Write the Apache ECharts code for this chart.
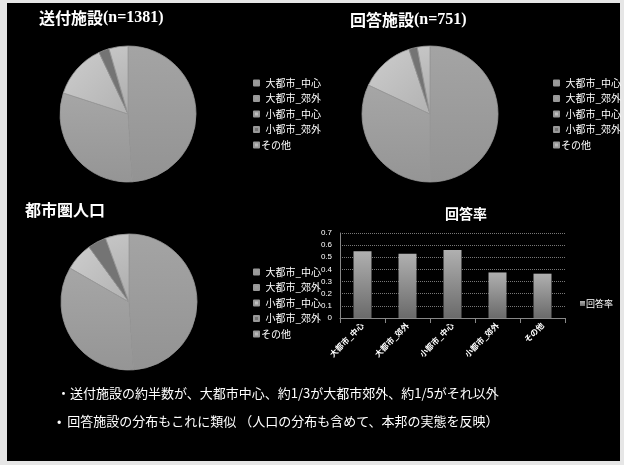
<!DOCTYPE html>
<html><head><meta charset="utf-8">
<script src="https://cdn.jsdelivr.net/npm/echarts@6/dist/echarts.min.js"></script>
<style>html,body{margin:0;padding:0;background:#e6e6e6;}#c{width:624px;height:465px;}</style>
</head><body><div id="c"></div>
<script>
const categories = ['大都市_中心','大都市_郊外','小都市_中心','小都市_郊外','その他'];
const sentValues = [49, 31, 13, 2.5, 4.5];
const answeredValues = [50, 32, 13, 2, 3];
const populationValues = [49, 34.3, 6.7, 4.4, 5.6];
const rateValues = [0.55, 0.53, 0.56, 0.375, 0.365];
const rateTicks = [0, 0.1, 0.2, 0.3, 0.4, 0.5, 0.6, 0.7];
const rateSeriesName = '回答率';

const JP = '"Noto Sans CJK JP", sans-serif';
const sliceColors = [
  {type:'linear',x:0,y:0,x2:0,y2:1,colorStops:[{offset:0,color:'#a4a4a4'},{offset:1,color:'#939393'}]},
  {type:'linear',x:0,y:1,x2:0,y2:0,colorStops:[{offset:0,color:'#959595'},{offset:1,color:'#a6a6a6'}]},
  {type:'linear',x:0,y:0,x2:1,y2:1,colorStops:[{offset:0,color:'#cdcdcd'},{offset:1,color:'#b2b2b2'}]},
  '#747474',
  {type:'linear',x:0,y:0,x2:1,y2:1,colorStops:[{offset:0,color:'#c6c6c6'},{offset:1,color:'#acacac'}]}
];
function pieData(vals){ return categories.map((n,i)=>({name:n,value:vals[i],itemStyle:{color:sliceColors[i]}})); }
function pieSeries(vals, cx, cy){
  return {type:'pie', center:[cx,cy], radius:68, startAngle:90, clockwise:true,
    label:{show:false}, labelLine:{show:false}, silent:true, animation:false,
    itemStyle:{borderWidth:0.8, borderColor:'#989898'}, data:pieData(vals)};
}
function legendAt(left, top){
  return {left:left, top:top, orient:'vertical', data:categories, itemWidth:5, itemHeight:5, itemGap:3.5,
    icon:'rect', selectedMode:false,
    formatter: n => n==='その他' ? n : '  ' + n,
    textStyle:{color:'#ffffff', fontSize:10, fontFamily:JP, lineHeight:12, padding:[0,0,0,-3]}};
}
const titleRich = {
  a:{color:'#fff', fontSize:16, fontWeight:'bold', fontFamily:JP},
  b:{color:'#fff', fontSize:16, fontWeight:'bold', fontFamily:'"Liberation Serif", serif'}
};
const chart = echarts.init(document.getElementById('c'), null, {renderer:'canvas'});
chart.setOption({
  backgroundColor:'#e6e6e6',
  animation:false,
  graphic:[
    {type:'rect', shape:{x:7,y:3,width:613,height:458}, style:{fill:'#000000'}, z:-10},
    {type:'text', left:57, top:387, style:{text:'・送付施設の約半数が、大都市中心、約1/3が大都市郊外、約1/5がそれ以外', fill:'#ffffff', font:'13px "Noto Sans CJK JP"'}},
    {type:'text', left:57, top:415, style:{text:'•  回答施設の分布もこれに類似 （人口の分布も含めて、本邦の実態を反映）', fill:'#ffffff', font:'13px "Noto Sans CJK JP"'}}
  ],
  title:[
    {text:'{a|送付施設}{b|(n=1381)}', left:34, top:5, textStyle:{rich:titleRich}},
    {text:'{a|回答施設}{b|(n=751)}', left:345, top:7, textStyle:{rich:titleRich}},
    {text:'都市圏人口', left:20, top:197, textStyle:{color:'#fff', fontSize:16, fontWeight:'bold', fontFamily:JP}},
    {text:'回答率', left:440, top:202, textStyle:{color:'#fff', fontSize:14, fontWeight:'bold', fontFamily:JP}}
  ],
  legend:[
    legendAt(248, 72),
    legendAt(548, 72),
    legendAt(248, 261),
    {left:575, top:294, data:[rateSeriesName], itemWidth:5, itemHeight:5, icon:'rect', selectedMode:false,
      textStyle:{color:'#fff', fontSize:9, fontFamily:JP, padding:[0,0,0,-4]}}
  ],
  grid:{left:340, top:233, width:225, height:85},
  xAxis:{type:'category', data:categories,
    axisLine:{lineStyle:{color:'#888'}}, axisTick:{show:true, lineStyle:{color:'#888'}},
    axisLabel:{color:'#fff', fontSize:8, fontWeight:'bold', rotate:45, fontFamily:JP, margin:6, interval:0}},
  yAxis:{type:'value', min:0, max:0.7, interval:0.1,
    axisLine:{show:true, lineStyle:{color:'#888'}}, axisTick:{show:false},
    axisLabel:{color:'#fff', fontSize:8, margin:8, formatter: v => { const t = rateTicks.find(x=>Math.abs(x-v)<1e-9); return t===0?'0':String(Math.round(v*10)/10); }},
    splitLine:{lineStyle:{color:'#777', type:'dotted'}}},
  series:[
    pieSeries(sentValues, 128, 114),
    pieSeries(answeredValues, 430, 114),
    pieSeries(populationValues, 129, 302),
    {type:'bar', name:rateSeriesName, data:rateValues, barWidth:18, silent:true,
      itemStyle:{color:{type:'linear',x:0,y:0,x2:0,y2:1,colorStops:[{offset:0,color:'#b0b0b0'},{offset:1,color:'#6a6a6a'}]}}}
  ]
});
</script></body></html>
